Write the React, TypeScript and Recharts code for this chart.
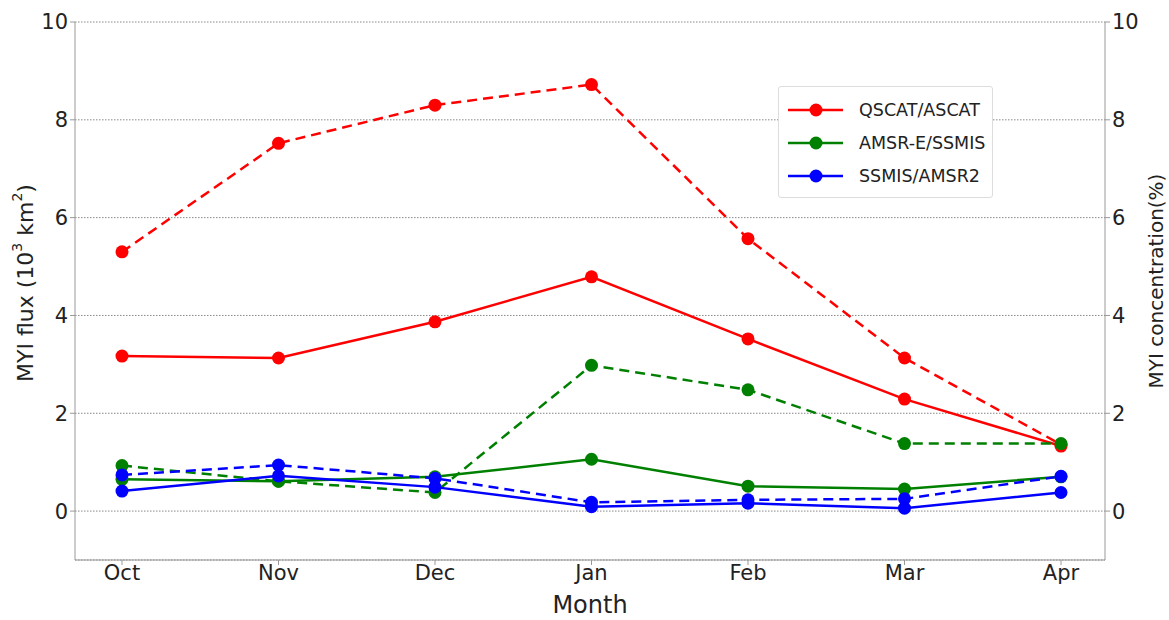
import React from 'react'
import {
   CartesianGrid,
   Line,
   LineChart,
   XAxis,
   YAxis,
} from 'recharts'

const months = ['Oct', 'Nov', 'Dec', 'Jan', 'Feb', 'Mar', 'Apr']
const qscatSolid = [3.17, 3.13, 3.87, 4.79, 3.52, 2.29, 1.33]
const qscatDashed = [5.3, 7.52, 8.3, 8.72, 5.57, 3.13, 1.36]
const amsreSolid = [0.65, 0.61, 0.7, 1.06, 0.51, 0.45, 0.7]
const amsreDashed = [0.93, 0.61, 0.38, 2.98, 2.48, 1.38, 1.38]
const ssmisSolid = [0.41, 0.72, 0.49, 0.09, 0.16, 0.06, 0.38]
const ssmisDashed = [0.74, 0.94, 0.67, 0.18, 0.23, 0.25, 0.71]
const yTicks = [0, 2, 4, 6, 8, 10]

const data = months.map((m, i) => ({
   month: m,
   qs: qscatSolid[i],
   qd: qscatDashed[i],
   as: amsreSolid[i],
   ad: amsreDashed[i],
   ss: ssmisSolid[i],
   sd: ssmisDashed[i],
}))

const FONT = 'DejaVu Sans, sans-serif'
const frame = '#999'

// solid = flux (left axis), dashed = concentration (right axis)
const series = [
   { key: 'qs', color: '#ff0000', dashed: false, name: 'QSCAT/ASCAT' },
   { key: 'qd', color: '#ff0000', dashed: true, name: 'QSCAT/ASCAT' },
   { key: 'as', color: '#008000', dashed: false, name: 'AMSR-E/SSMIS' },
   { key: 'ad', color: '#008000', dashed: true, name: 'AMSR-E/SSMIS' },
   { key: 'ss', color: '#0000ff', dashed: false, name: 'SSMIS/AMSR2' },
   { key: 'sd', color: '#0000ff', dashed: true, name: 'SSMIS/AMSR2' },
]

const legendItems = series.filter((s) => !s.dashed)

function LegendBox() {
   return (
      <div
         style={{
            position: 'absolute',
            left: 778,
            top: 86,
            width: 215,
            height: 112,
            border: '1px solid #ddd',
            borderRadius: 3,
            background: '#fff',
            boxSizing: 'border-box',
            paddingTop: 6,
            fontFamily: FONT,
         }}
      >
         {legendItems.map((s) => (
            <div key={s.key} style={{ display: 'flex', alignItems: 'center', height: 33 }}>
               <svg width={62} height={20} style={{ marginLeft: 7 }}>
                  <line x1={2} y1={10} x2={57} y2={10} stroke={s.color} strokeWidth={2.5} />
                  <circle cx={30} cy={10} r={6.5} fill={s.color} />
               </svg>
               <span style={{ fontSize: 17.5, color: '#222', marginLeft: 11 }}>{s.name}</span>
            </div>
         ))}
      </div>
   )
}

function LeftLabel({ viewBox }: any) {
   const cy = viewBox.y + viewBox.height / 2 - 8
   return (
      <text
         x={25}
         y={cy}
         transform={`rotate(-90, 25, ${cy})`}
         textAnchor="middle"
         dominantBaseline="central"
         fontSize={22}
         fontFamily={FONT}
         fill="#222"
      >
         MYI flux (10
         <tspan baselineShift="super" fontSize={14}>3</tspan>
         <tspan> km</tspan>
         <tspan baselineShift="super" fontSize={14}>2</tspan>
         )
      </text>
   )
}

function RightLabel({ viewBox }: any) {
   const cy = viewBox.y + viewBox.height / 2 - 10
   return (
      <text
         x={1156}
         y={cy}
         transform={`rotate(-90, 1156, ${cy})`}
         textAnchor="middle"
         dominantBaseline="central"
         fontSize={20}
         fontFamily={FONT}
         fill="#222"
      >
         MYI concentration(%)
      </text>
   )
}

export default function App() {
   const tickStyle = { fontSize: 21, fontFamily: FONT, fill: '#222' }
   return (
      <div style={{ position: 'absolute', left: 0, top: 0, width: 1169, height: 620, background: '#fff' }}>
         <LineChart
            width={1169}
            height={620}
            data={data}
            margin={{ top: 22, right: 0, left: 0, bottom: 0 }}
         >
            <CartesianGrid
               vertical={false}
               stroke="#888"
               strokeDasharray="1.5 1.5"
               yAxisId="left"
            />
            <XAxis
               dataKey="month"
               height={60}
               padding={{ left: 47, right: 44 }}
               tick={{ ...tickStyle, dy: -2 }}
               tickLine={{ stroke: frame }}
               tickSize={5}
               axisLine={{ stroke: frame }}
               label={{
                  value: 'Month',
                  position: 'insideBottom',
                  offset: 7,
                  fontSize: 24,
                  fontFamily: FONT,
                  fill: '#222',
               }}
            />
            <XAxis
               xAxisId="top"
               dataKey="month"
               orientation="top"
               height={0}
               padding={{ left: 47, right: 44 }}
               tick={false}
               tickLine={false}
               axisLine={{ stroke: frame }}
            />
            <YAxis
               yAxisId="left"
               width={75}
               domain={[-1, 10]}
               ticks={yTicks}
               interval={0}
               tick={tickStyle}
               tickLine={{ stroke: frame }}
               tickSize={5}
               axisLine={{ stroke: frame }}
               label={<LeftLabel />}
            />
            <YAxis
               yAxisId="right"
               orientation="right"
               width={64}
               domain={[-1, 10]}
               ticks={yTicks}
               interval={0}
               tick={tickStyle}
               tickLine={{ stroke: frame }}
               tickSize={5}
               axisLine={{ stroke: frame }}
               label={<RightLabel />}
            />
            {series.map((s) => (
               <Line
                  key={s.key}
                  yAxisId={s.dashed ? 'right' : 'left'}
                  dataKey={s.key}
                  name={s.name}
                  type="linear"
                  stroke={s.color}
                  strokeWidth={2.5}
                  strokeDasharray={s.dashed ? '10 6' : undefined}
                  dot={{ r: 6.5, fill: s.color, stroke: s.color, strokeWidth: 0, strokeDasharray: '' }}
                  activeDot={false}
                  isAnimationActive={false}
               />
            ))}
         </LineChart>
         <LegendBox />
      </div>
   )
}
